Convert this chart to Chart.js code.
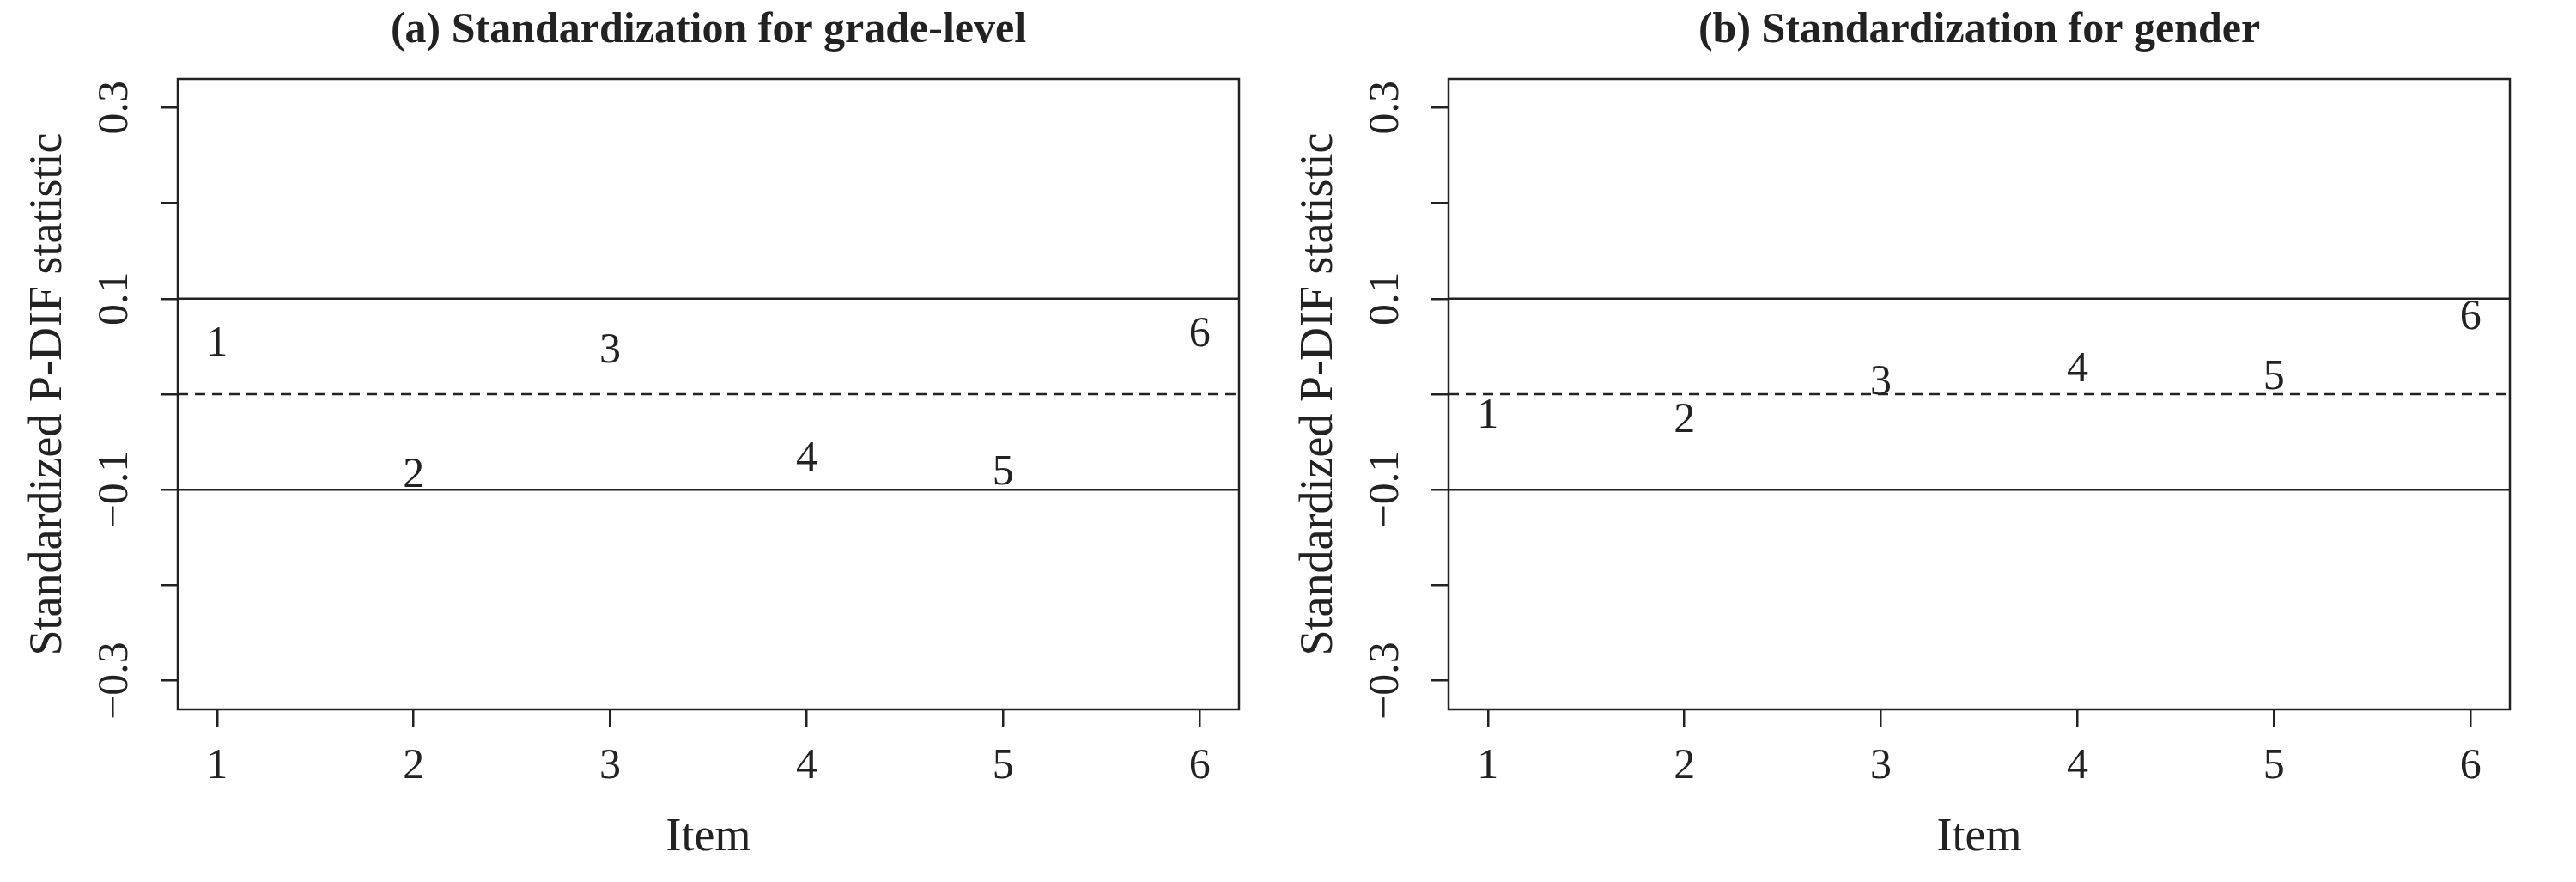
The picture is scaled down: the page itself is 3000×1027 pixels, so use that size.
<!DOCTYPE html>
<html>
<head>
<meta charset="utf-8">
<script src="https://cdn.jsdelivr.net/npm/chart.js@4"></script>
<style>
  body { margin: 0; background: #fff; }
  .wrap { display: flex; width: 3000px; height: 1027px; }
  .panel { width: 1500px; height: 1027px; position: relative; }
</style>
</head>
<body>
<div class="wrap">
  <div class="panel"><canvas id="chartA"></canvas></div>
  <div class="panel"><canvas id="chartB"></canvas></div>
</div>
<script>
// Данные
const items = [1, 2, 3, 4, 5, 6];
const gradeLevel = [0.052, -0.085, 0.045, -0.068, -0.083, 0.062];
const gender = [-0.023, -0.028, 0.012, 0.025, 0.017, 0.080];
const yTicks = [-0.3, -0.2, -0.1, 0, 0.1, 0.2, 0.3];
const yLabels = ['\u22120.3', '', '\u22120.1', '', '0.1', '', '0.3'];
const refLines = [-0.1, 0, 0.1];

const SERIF = '"Liberation Serif", "DejaVu Serif", serif';

// Рисуем рамку, линии, подписи и точки-цифры
const panelPlugin = {
    id: 'panelPlugin',
    afterDatasetsDraw(chart) {
        const ctx = chart.ctx;
        const a = chart.chartArea;
        const xs = chart.scales.x;
        const ys = chart.scales.y;
        ctx.save();
        ctx.strokeStyle = '#222';
        ctx.lineWidth = 2.5;
        ctx.strokeRect(a.left, a.top, a.right - a.left, a.bottom - a.top);

        // горизонтальные линии
        refLines.forEach(v => {
            const y = ys.getPixelForValue(v);
            ctx.setLineDash(v === 0 ? [12, 8] : []);
            ctx.beginPath();
            ctx.moveTo(a.left, y);
            ctx.lineTo(a.right, y);
            ctx.stroke();
        });
        ctx.setLineDash([]);

        // цифры вместо маркеров
        ctx.fillStyle = '#222';
        ctx.font = '50px ' + SERIF;
        ctx.textAlign = 'center';
        ctx.textBaseline = 'middle';
        chart.data.datasets[0].data.forEach(p => {
            ctx.fillText(String(p.x), xs.getPixelForValue(p.x), ys.getPixelForValue(p.y));
        });

        // подписи оси X
        items.forEach(it => {
            ctx.fillText(String(it), xs.getPixelForValue(it), 893);
        });
        ctx.font = '54px ' + SERIF;
        ctx.fillText('Item', (a.left + a.right) / 2, 976);

        // подписи оси Y (повернутые)
        ctx.font = '50px ' + SERIF;
        yTicks.forEach((t, i) => {
            if (!yLabels[i]) return;
            ctx.save();
            ctx.translate(a.left - 72, ys.getPixelForValue(t));
            ctx.rotate(-Math.PI / 2);
            ctx.fillText(yLabels[i], 0, 0);
            ctx.restore();
        });
        ctx.save();
        ctx.font = '54px ' + SERIF;
        ctx.translate(a.left - 150, (a.top + a.bottom) / 2);
        ctx.rotate(-Math.PI / 2);
        ctx.fillText('Standardized P-DIF statistic', 0, 0);
        ctx.restore();

        // заголовок
        ctx.font = 'bold 50px ' + SERIF;
        ctx.fillText(chart.options.plugins.panelTitle, (a.left + a.right) / 2, 36);
        ctx.restore();
    }
};

function makeChart(id, values, title, leftW, rightPad) {
    const ctx = document.getElementById(id).getContext('2d');
    return new Chart(ctx, {
        type: 'scatter',
        data: {
            datasets: [{
                data: values.map((v, i) => ({ x: items[i], y: v })),
                pointRadius: 0,
                showLine: false
            }]
        },
        options: {
            responsive: false,
            animation: false,
            layout: { padding: { top: 92, right: rightPad, left: 0, bottom: 0 } },
            plugins: {
                legend: { display: false },
                tooltip: { enabled: false },
                panelTitle: title
            },
            scales: {
                x: {
                    type: 'linear',
                    min: 0.8,
                    max: 6.2,
                    afterBuildTicks: s => { s.ticks = items.map(v => ({ value: v })); },
                    afterFit: s => { s.height = 201; },
                    ticks: { display: false },
                    border: { display: false },
                    grid: { drawOnChartArea: false, drawTicks: true, tickLength: 20, color: '#222', lineWidth: 2.5 }
                },
                y: {
                    min: -0.33,
                    max: 0.33,
                    afterBuildTicks: s => { s.ticks = yTicks.map(v => ({ value: v })); },
                    afterFit: s => { s.width = leftW; },
                    ticks: { display: false },
                    border: { display: false },
                    grid: { drawOnChartArea: false, drawTicks: true, tickLength: 20, color: '#222', lineWidth: 2.5 }
                }
            }
        },
        plugins: [panelPlugin]
    });
}

document.getElementById('chartA').width = 1500;
document.getElementById('chartA').height = 1027;
document.getElementById('chartB').width = 1500;
document.getElementById('chartB').height = 1027;

makeChart('chartA', gradeLevel, '(a) Standardization for grade-level', 207, 57);
makeChart('chartB', gender, '(b) Standardization for gender', 187, 77);
</script>
</body>
</html>
